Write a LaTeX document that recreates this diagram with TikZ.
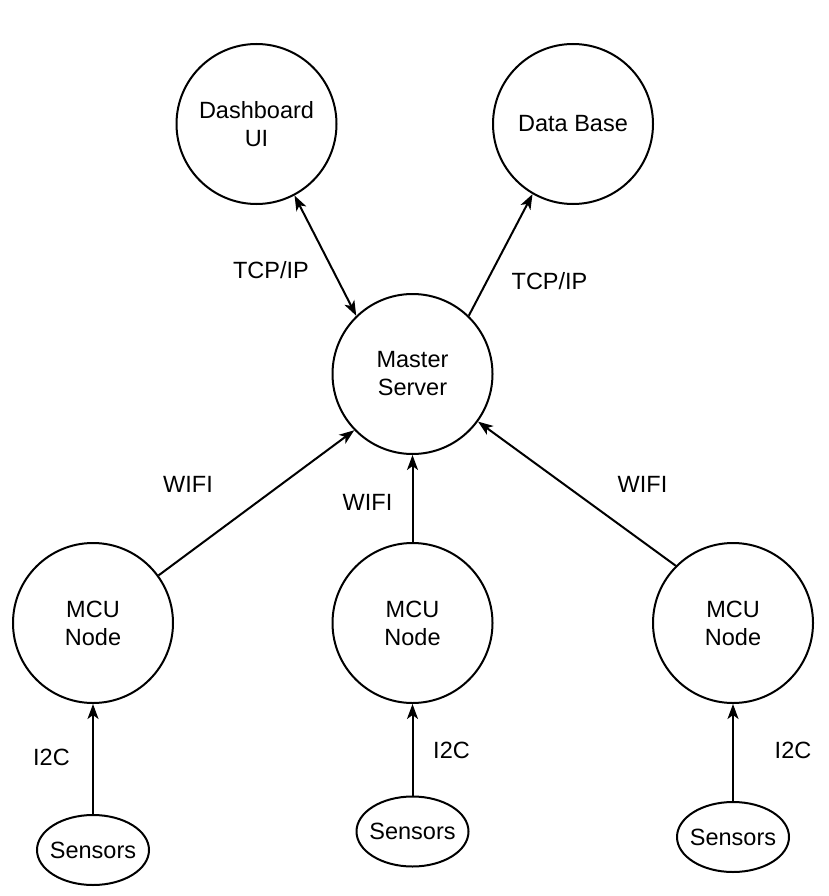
\documentclass[tikz,border=0pt]{standalone}
\usepackage{fontspec}
\setmainfont{Liberation Sans}
\usetikzlibrary{shapes.geometric,arrows.meta}
\begin{document}
\begin{tikzpicture}[x=1pt,y=-1pt,
  every node/.style={font=\fontsize{23.5}{28}\selectfont},
  bignode/.style={circle,draw,line width=2pt,minimum size=160pt,inner sep=0pt,align=center},
  sensnode/.style={ellipse,draw,line width=2pt,minimum width=112pt,minimum height=70pt,inner sep=-12pt},
  conn/.style={line width=2pt,-{Stealth[length=15pt,width=11pt,inset=4pt]}},
  lbl/.style={inner sep=0pt}]
\useasboundingbox[fill=white] (0,0) rectangle (828,896);
\node[bignode] (dash) at (256.5,124) {Dashboard\\UI};
\node[bignode] (db) at (573,124) {Data Base};
\node[bignode] (master) at (412.5,374) {Master\\Server};
\node[bignode] (mcu1) at (93,623) {MCU\\Node};
\node[bignode] (mcu2) at (412.5,623) {MCU\\Node};
\node[bignode] (mcu3) at (733,623) {MCU\\Node};
\node[sensnode] (s1) at (93,850) {Sensors};
\node[sensnode] (s2) at (412.5,831.5) {Sensors};
\node[sensnode] (s3) at (733,837) {Sensors};

\draw[conn,{Stealth[length=15pt,width=11pt,inset=4pt]}-{Stealth[length=15pt,width=11pt,inset=4pt]}] (dash.-62) -- (master.134);
\draw[conn] (master.46) -- (db.-120);
\draw[conn] (mcu1.36) -- (master.-136);
\draw[conn] (mcu2.north) -- (master.south);
\draw[conn] (mcu3.135) -- (master.-36);
\draw[conn] (s1.north) -- (mcu1.south);
\draw[conn] (s2.north) -- (mcu2.south);
\draw[conn] (s3.north) -- (mcu3.south);

\node[lbl] (l1) at (271,270) {TCP/IP};
\node[lbl] (l2) at (549.5,281) {TCP/IP};
\node[lbl] (l3) at (188,484.5) {WIFI};
\node[lbl] (l4) at (367.5,502.5) {WIFI};
\node[lbl] (l5) at (642.5,484.5) {WIFI};
\node[lbl] (l6) at (51.5,757) {I2C};
\node[lbl] (l7) at (451.5,750) {I2C};
\node[lbl] (l8) at (793,750) {I2C};
\end{tikzpicture}
\end{document}
